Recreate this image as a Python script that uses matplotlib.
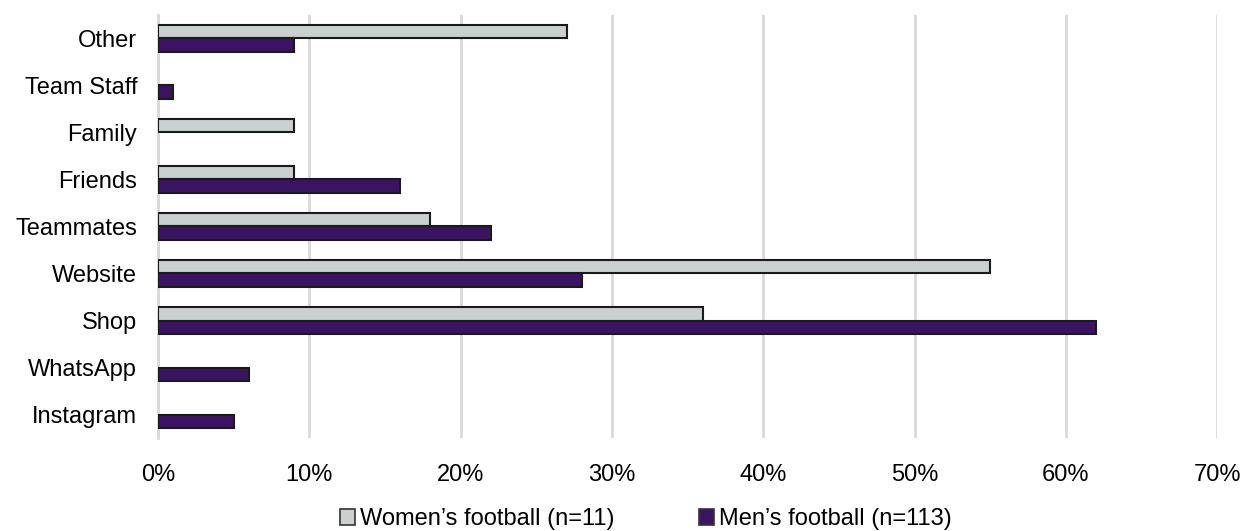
import numpy as np
import matplotlib
matplotlib.use("Agg")
import matplotlib.pyplot as plt
from matplotlib.patches import Patch

plt.rcParams['font.family'] = ['Liberation Sans', 'DejaVu Sans']

categories = ["Instagram", "WhatsApp", "Shop", "Website", "Teammates",
              "Friends", "Family", "Team Staff", "Other"]
women = [0, 0, 36, 55, 18, 9, 9, 0, 27]
men = [5, 6, 62, 28, 22, 16, 0, 1, 9]
ticks = [0, 10, 20, 30, 40, 50, 60, 70]
labels = ["Women\u2019s football (n=11)", "Men\u2019s football (n=113)"]
colors = ["#CCCFCF", "#3A1463"]

fig = plt.figure(figsize=(12.49, 5.31), dpi=100)
ax = fig.add_axes([0.1265, 0.175, 0.848, 0.797])

y = np.arange(len(categories))
h = 0.28
# zero bars get no edge so they don't leave a stray line
ax.barh(y + h / 2, women, height=h, color=colors[0], edgecolor="#1a1a1a",
        linewidth=[1.5 if v else 0 for v in women], zorder=3)
ax.barh(y - h / 2, men, height=h, color=colors[1], edgecolor="#1a1a1a",
        linewidth=[1.5 if v else 0 for v in men], zorder=3)

fs = 17
ax.set_xlim(0, 70)
ax.set_ylim(-0.5, len(categories) - 0.5)
ax.set_xticks(ticks)
ax.set_xticklabels([f"{t}%" for t in ticks], fontsize=fs)
ax.set_yticks(y)
ax.set_yticklabels(categories, fontsize=fs)
ax.tick_params(axis='y', length=0, pad=15)
ax.tick_params(axis='x', length=0, pad=19)
ax.xaxis.grid(True, color="#D9D9D9", linewidth=2, zorder=0)
for s in ["top", "right", "bottom"]:
    ax.spines[s].set_visible(False)
ax.spines["left"].set_color("#D9D9D9")
ax.spines["left"].set_linewidth(2)

handles = [Patch(facecolor=c, edgecolor="#333333", linewidth=1.2) for c in colors]
fig.legend(handles, labels, loc="center", bbox_to_anchor=(0.517, 0.022), ncol=2,
           frameon=False, fontsize=fs, handlelength=0.65, handleheight=0.65,
           handletextpad=0.2, columnspacing=3.6)

fig.savefig("out.png", dpi=100)
